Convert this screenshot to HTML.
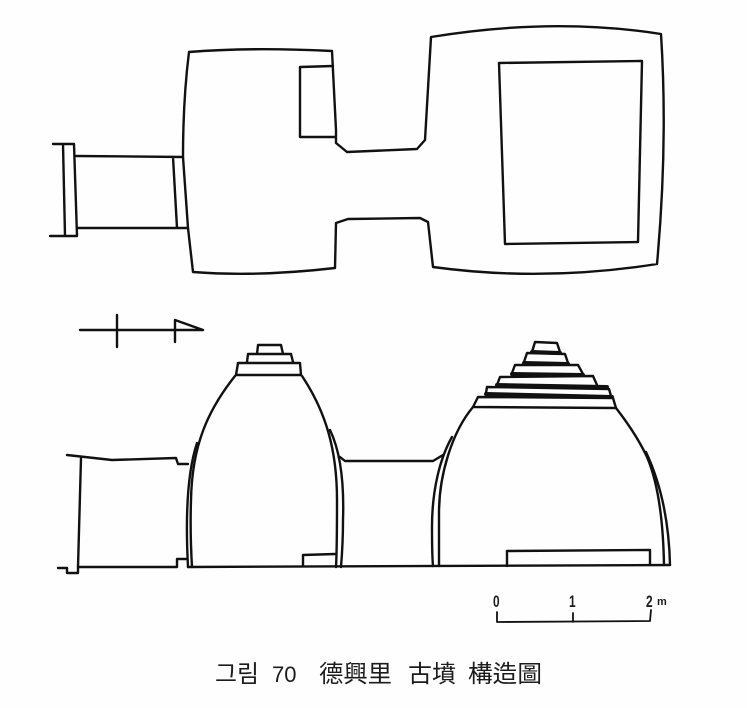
<!DOCTYPE html>
<html>
<head>
<meta charset="utf-8">
<style>
html,body{margin:0;padding:0;background:#fefefe;width:747px;height:708px;overflow:hidden}
svg{display:block}
text{fill:#1c1c1c}
.c{font-family:"Liberation Sans","Noto Sans CJK KR","Noto Sans CJK JP",sans-serif;font-size:24px}
.s{font-family:"Liberation Sans",sans-serif;font-size:17px;font-weight:bold}
</style>
</head>
<body>
<svg width="747" height="708" viewBox="0 0 747 708" xmlns="http://www.w3.org/2000/svg">
<g fill="none" stroke="#111" stroke-width="2.4" stroke-linejoin="round" stroke-linecap="round">
<!-- plan -->
<path d="M189 52Q250 47 332 51L336 130L336 143L347 152L417 149L425 140L431 37Q553 17 661 34Q668 143 657 264Q543 282 433 267L428 222L420 218L348 219L336 223L335 268Q257 277 193 272L188 228L183 157Q183 100 189 52Z"/>
<path d="M499 63L642 61L638 242L505 244Z"/>
<path d="M333 66L300 67L300 137L335 137"/>
<path d="M76 156L183 157M78 228L188 228M173 157L177 228"/>
<path d="M53 144L74 144L77 236L50 236M63 144L65 236"/>
<!-- orientation mark -->
<path d="M80 330L203 330M117 315L117 347M175 342L175 320L203 330"/>
<!-- left dome -->
<path d="M257 354L258 345L281 345L283 354M247 362L248 354L291 354L293 362"/>
<path d="M236 375L238 363L300 363L301 375Z"/>
<path d="M235 376C208 410 192 445 191 500C190 530 191 550 192 567"/>
<path d="M197 443C188 470 185 510 188 567"/>
<path d="M302 376C326 412 337 450 337 500C337 530 337 550 336 567"/>
<path d="M330 430C342 455 344 490 343 520C343 540 342 555 341 567"/>
<!-- corridor elevation -->
<path d="M67 455L112 460L176 458L178 464L188 464"/>
<path d="M81 458L78 567"/>
<path d="M58 568L67 568L67 573L78 573L78 567L177 567L177 559L186 559"/>
<path d="M188 567L670 565"/>
<path d="M303 566L303 555L335 554"/>
<path d="M340 457L345 461L433 461L443 455"/>
<!-- right dome -->
<path d="M452 437C440 458 432 490 432 527C432 545 432 555 433 566"/>
<path d="M473 407C452 432 439 475 439 513C439 535 439 550 439 566"/>
<path d="M616 408C630 426 640 442 647 457C656 478 663 510 664 565"/>
<path d="M646 452C660 482 669 520 670 565"/>
<path d="M473 407L615 408M473 407L478 397L613 398L616 408"/>
<path d="M486 393L487 387L609 389L611 396"/>
<path d="M497 385L500 377L593 376L597 385"/>
<path d="M512 373L515 365L578 365L583 374"/>
<path d="M524 362L527 353L565 354L568 363"/>
<path d="M532 352L535 342L557 343L560 352"/>
<path d="M507 566L507 551L650 550L650 565"/>
<!-- thick tier lines -->
<g stroke-width="4">
<path d="M486 394L612 397"/>
<path d="M497 385L607 387"/>
<path d="M512 374L583 375"/>
<path d="M524 363L568 364"/>
<path d="M532 352L560 353"/>
</g>
<!-- scale -->
<path d="M497 612L497 622L650 621L651 610M573 613L573 622" stroke-width="1.8"/>
</g>
<text class="s" transform="translate(493 607) scale(.7 1)" x="0" y="0">0</text>
<text class="s" transform="translate(569 607) scale(.7 1)" x="0" y="0">1</text>
<text class="s" transform="translate(646 607) scale(.7 1)" x="0" y="0">2</text>
<text x="657" y="605" style="font-family:'Liberation Sans',sans-serif;font-size:11px;font-weight:bold">m</text>
<text class="c" x="215" y="682" textLength="44" lengthAdjust="spacingAndGlyphs">그림</text>
<text class="c" x="272" y="682" style="font-size:22px">70</text>
<text class="c" x="319" y="682" textLength="73" lengthAdjust="spacingAndGlyphs">德興里</text>
<text class="c" x="408" y="682" textLength="48" lengthAdjust="spacingAndGlyphs">古墳</text>
<text class="c" x="468" y="682" textLength="74" lengthAdjust="spacingAndGlyphs">構造圖</text>
</svg>
</body>
</html>
